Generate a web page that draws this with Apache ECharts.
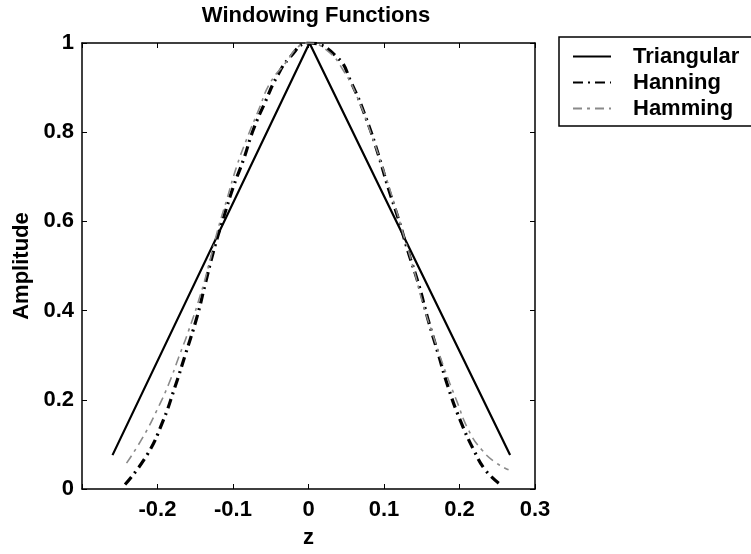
<!DOCTYPE html>
<html>
<head>
<meta charset="utf-8">
<script src="https://cdn.jsdelivr.net/npm/echarts@6/dist/echarts.min.js"></script>
<style>
html,body{margin:0;padding:0;background:#fff;}
#chart{width:751px;height:554px;}
</style>
</head>
<body>
<div id="chart"></div>
<script>
var titleText = 'Windowing Functions';
var xName = 'z';
var yName = 'Amplitude';
var seriesNames = ['Triangular', 'Hanning', 'Hamming'];

var triZ = [-0.2596, 0.0013, 0.267];
var triA = [0.076, 1.0, 0.076];

var hanZ = [-0.243, -0.214, -0.194, -0.177, -0.163, -0.148, -0.137, -0.126, -0.113, -0.099, -0.086, -0.073, -0.057, -0.042, -0.024, 0.0,
            0.0375, 0.057, 0.077, 0.093, 0.106, 0.119, 0.132, 0.146, 0.159, 0.172, 0.185, 0.201, 0.219, 0.234, 0.252];
var hanA = [0.01, 0.076, 0.147, 0.228, 0.302, 0.384, 0.458, 0.532, 0.606, 0.68, 0.739, 0.806, 0.869, 0.924, 0.969, 1.0,
            0.969, 0.91, 0.828, 0.747, 0.673, 0.606, 0.532, 0.458, 0.376, 0.302, 0.228, 0.154, 0.087, 0.043, 0.013];

var hamZ = [-0.241, -0.219, -0.201, -0.185, -0.172, -0.159, -0.143, -0.132, -0.121, -0.108, -0.095, -0.082, -0.066, -0.051, -0.031, -0.011, 0.0,
            0.024, 0.046, 0.066, 0.084, 0.099, 0.113, 0.126, 0.139, 0.152, 0.166, 0.181, 0.196, 0.212, 0.23, 0.249, 0.265];
var hamA = [0.058, 0.117, 0.176, 0.236, 0.295, 0.354, 0.436, 0.502, 0.576, 0.65, 0.724, 0.784, 0.85, 0.91, 0.954, 0.995, 1.0,
            0.984, 0.939, 0.873, 0.791, 0.717, 0.643, 0.569, 0.495, 0.413, 0.339, 0.265, 0.199, 0.132, 0.087, 0.058, 0.043];

var xMin = -0.3, xMax = 0.3, xStep = 0.1;
var yMin = 0, yMax = 1, yStep = 0.2;

function pairs(xs, ys) { return xs.map(function (x, i) { return [x, ys[i]]; }); }

var FONT = 'Liberation Sans';
var FS = 22;
var tickLabel = { fontFamily: FONT, fontWeight: 'bold', fontSize: FS, color: '#000' };

function xLabelFmt(v) {
  if (v < xMin + 1e-9) return '';
  var r = Math.round(v * 10) / 10;
  return r === 0 ? '0' : String(r);
}
function yLabelFmt(v) {
  var r = Math.round(v * 10) / 10;
  return String(r);
}

var chart = echarts.init(document.getElementById('chart'), null, { renderer: 'canvas' });
chart.setOption({
  backgroundColor: '#fff',
  animation: false,
  title: {
    text: titleText,
    left: 311, textAlign: 'center', top: 0,
    textStyle: { fontFamily: FONT, fontWeight: 'bold', fontSize: 22, color: '#000' }
  },
  legend: {
    orient: 'vertical',
    left: 559, top: 37,
    padding: [8, 20, 6, 13],
    itemGap: 3,
    itemWidth: 38, itemHeight: 14,
    borderColor: '#000', borderWidth: 1.5,
    backgroundColor: '#fff',
    itemStyle: { color: 'transparent', borderColor: 'transparent', borderWidth: 0 },
    textStyle: { fontFamily: FONT, fontWeight: 'bold', fontSize: FS, color: '#000', lineHeight: 23, padding: [0, 0, 0, 17] },
    data: seriesNames
  },
  grid: { left: 82, right: 216, top: 43, bottom: 61, containLabel: false },
  xAxis: [{
    type: 'value', min: xMin, max: xMax, interval: xStep,
    name: xName, nameLocation: 'middle', nameGap: 38,
    nameTextStyle: { fontFamily: FONT, fontWeight: 'bold', fontSize: FS, color: '#000' },
    axisLine: { show: true, onZero: false, lineStyle: { color: '#000', width: 1.5 } },
    axisTick: { show: true, inside: true, length: 5, lineStyle: { color: '#000' } },
    axisLabel: Object.assign({ margin: 10, formatter: xLabelFmt, showMinLabel: true, showMaxLabel: true }, tickLabel),
    splitLine: { show: false }
  }, {
    type: 'value', min: xMin, max: xMax, interval: xStep, position: 'top',
    axisLine: { show: true, onZero: false, lineStyle: { color: '#000', width: 1.5 } },
    axisTick: { show: true, inside: true, length: 5, lineStyle: { color: '#000' } },
    axisLabel: { show: false }, splitLine: { show: false }
  }],
  yAxis: [{
    type: 'value', min: yMin, max: yMax, interval: yStep,
    name: yName, nameLocation: 'middle', nameGap: 48, nameRotate: 90,
    nameTextStyle: { fontFamily: FONT, fontWeight: 'bold', fontSize: FS, color: '#000' },
    axisLine: { show: true, onZero: false, lineStyle: { color: '#000', width: 1.5 } },
    axisTick: { show: true, inside: true, length: 5, lineStyle: { color: '#000' } },
    axisLabel: Object.assign({ margin: 8, formatter: yLabelFmt }, tickLabel),
    splitLine: { show: false }
  }, {
    type: 'value', min: yMin, max: yMax, interval: yStep, position: 'right',
    axisLine: { show: true, onZero: false, lineStyle: { color: '#000', width: 1.5 } },
    axisTick: { show: true, inside: true, length: 5, lineStyle: { color: '#000' } },
    axisLabel: { show: false }, splitLine: { show: false }
  }],
  series: [{
    name: seriesNames[0], type: 'line', symbol: 'none', smooth: false,
    data: pairs(triZ, triA),
    lineStyle: { color: '#000', width: 2.2, type: 'solid' },
    itemStyle: { color: '#000' }
  }, {
    name: seriesNames[1], type: 'line', symbol: 'none', smooth: true,
    data: pairs(hanZ, hanA),
    lineStyle: { color: '#000', width: 3.2, type: [10, 5, 2, 5] },
    itemStyle: { color: '#000' }
  }, {
    name: seriesNames[2], type: 'line', symbol: 'none', smooth: true,
    data: pairs(hamZ, hamA),
    lineStyle: { color: '#8a8a8a', width: 1.6, type: [9, 5, 3, 5] },
    itemStyle: { color: '#8a8a8a' }
  }]
});
</script>
</body>
</html>
